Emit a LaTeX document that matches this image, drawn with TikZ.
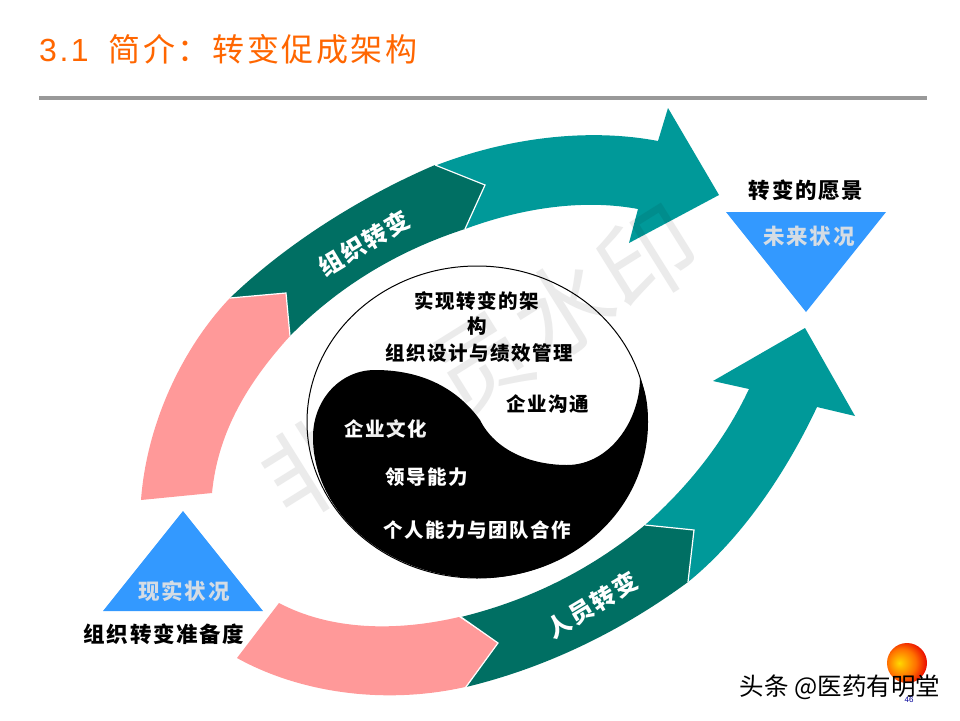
\documentclass[tikz,border=0pt]{standalone}
\usepackage{fontspec}
\setmainfont{Liberation Sans}
\newfontfamily\cjk{Noto Sans CJK SC}
\newfontfamily\cjkwide[LetterSpace=8]{Noto Sans CJK SC}
\newfontfamily\cjktitle[LetterSpace=8]{Noto Sans CJK SC}
\newfontfamily\latintitle[LetterSpace=8]{Liberation Sans}
\definecolor{tealarrow}{HTML}{009999}
\definecolor{darkarrow}{HTML}{006F63}
\definecolor{pinkarrow}{HTML}{FF9999}
\definecolor{bluetri}{HTML}{3399FF}
\definecolor{trilabel}{HTML}{D4DCE4}
\definecolor{titleorange}{HTML}{FF6600}
\definecolor{rulegray}{HTML}{999999}
\definecolor{sunyellow}{HTML}{FFD800}
\definecolor{sunorange}{HTML}{FF7000}
\definecolor{sunred}{HTML}{E80000}
\pgfdeclareradialshading{sunball}{\pgfpoint{-10bp}{0bp}}{
    color(0bp)=(sunyellow);
    color(18bp)=(sunorange);
    color(31bp)=(sunred);
    color(60bp)=(sunred)}
\begin{document}
\begin{tikzpicture}[x=1pt, y=-1pt,
    darklabel/.style={text=black, font=\cjkwide\bfseries\fontsize{19.5}{22}\selectfont, inner sep=0pt},
    lightlabel/.style={text=white, font=\cjkwide\bfseries\fontsize{19.5}{22}\selectfont, inner sep=0pt},
    armlabel/.style={text=white, font=\cjkwide\bfseries\fontsize{24}{26}\selectfont, inner sep=0pt, rotate=31},
    sidelabel/.style={text=black, font=\cjkwide\bfseries\fontsize{21.5}{24}\selectfont, inner sep=0pt},
    trilabelnode/.style={text=trilabel, font=\cjkwide\bfseries\fontsize{21.5}{24}\selectfont, inner sep=0pt},
    notch/.style={draw=white, line width=1.2pt, line join=miter}]
    \useasboundingbox (0,0) rectangle (960,720);
    \fill[white] (0,0) rectangle (960,720);

    \node[anchor=west, inner sep=0pt, text=titleorange] (title) at (39,49)
        {\fontsize{32}{36}\selectfont\latintitle 3.1\hspace{20pt}\cjktitle 简介：转变促成架构};
    \fill[rulegray] (39,96) rectangle (927,99.5);

    \fill[tealarrow] (437,165) .. controls (510,137) and (590,128) .. (658,141)
        -- (668,108) -- (719,195) -- (629,243) -- (638,209)
        .. controls (590,200) and (530,205) .. (465,229) -- cycle;
    \fill[pinkarrow] (141,500) .. controls (147,420) and (185,345) .. (230,298)
        -- (286,293) -- (290,336)
        .. controls (250,380) and (218,430) .. (212,493) -- cycle;
    \fill[darkarrow] (230,298) .. controls (285,245) and (360,197) .. (435,165)
        -- (485,185) -- (465,229)
        .. controls (400,250) and (340,285) .. (290,336)
        -- (286,293) -- cycle;
    \draw[notch] (435,165) -- (485,185) -- (465,229);
    \draw[notch] (230,298) -- (286,293) -- (290,336);

    \fill[tealarrow] (688,582) .. controls (740,540) and (785,475) .. (817,407)
        -- (855,416) -- (805,328) -- (713,381) -- (749,389)
        .. controls (725,440) and (690,485) .. (645,525) -- cycle;
    \fill[pinkarrow] (279,603) .. controls (330,630) and (395,632) .. (459,617)
        -- (498,643) -- (465,687)
        .. controls (385,705) and (300,693) .. (237,658) -- cycle;
    \fill[darkarrow] (461,617) .. controls (530,600) and (590,570) .. (645,525)
        -- (694,530) -- (688,582)
        .. controls (620,632) and (545,668) .. (466,687)
        -- (498,643) -- cycle;
    \draw[notch] (645,525) -- (694,530) -- (688,582);
    \draw[notch] (461,617) -- (498,643) -- (466,687);

    \fill[bluetri] (183,511) -- (263,611) -- (103,611) -- cycle;
    \fill[bluetri] (726,212) -- (886,212) -- (806,312) -- cycle;

    \draw[black, line width=1pt, fill=white] (477,422) ellipse [x radius=170, y radius=156];
    \fill[black] (640,378) .. controls (646,392) and (648,405) .. (648,422)
        .. controls (648,510) and (572,578) .. (480,578)
        .. controls (390,578) and (313,515) .. (313,437)
        .. controls (313,400) and (340,370) .. (375,370)
        .. controls (430,370) and (462,395) .. (480,420)
        .. controls (495,450) and (530,465) .. (567,465)
        .. controls (610,465) and (640,420) .. (640,378) -- cycle;

    \node[armlabel] (orglabel) at (364,243) {组织转变};
    \node[armlabel] (staffphase) at (592,605) {人员转变};
    \node[darklabel] (frameone) at (477,301) {实现转变的架};
    \node[darklabel] (frametwo) at (477,326) {构};
    \node[darklabel] (orgdesign) at (479,353) {组织设计与绩效管理};
    \node[darklabel] (comms) at (548,404) {企业沟通};
    \node[lightlabel] (culture) at (386,429) {企业文化};
    \node[lightlabel] (leader) at (427,477) {领导能力};
    \node[lightlabel] (teamwork) at (477,530) {个人能力与团队合作};
    \node[sidelabel] (vision) at (806,190) {转变的愿景};
    \node[trilabelnode] (future) at (809,236) {未来状况};
    \node[trilabelnode] (current) at (184,591) {现实状况};
    \node[sidelabel] (ready) at (164,634) {组织转变准备度};

    \shade[shading=sunball] (907,663) circle (20);
    \node[inner sep=0pt, text=black, font=\cjk\fontsize{24.5}{26}\selectfont] (credit) at (840,687) {头条 @医药有明堂};
    \node[inner sep=0pt, text=blue!60!black, font=\fontsize{8}{9}\selectfont] (pageno) at (909,700) {46};

    \begin{scope}[blend mode=multiply]
        \node[inner sep=0pt, rotate=32, text=black!8, font=\cjk\fontsize{98}{100}\selectfont] (mark) at (480,362)
            {非\hspace{1pt}会\hspace{1pt}员\hspace{1pt}水\hspace{1pt}印};
    \end{scope}
\end{tikzpicture}
\end{document}
